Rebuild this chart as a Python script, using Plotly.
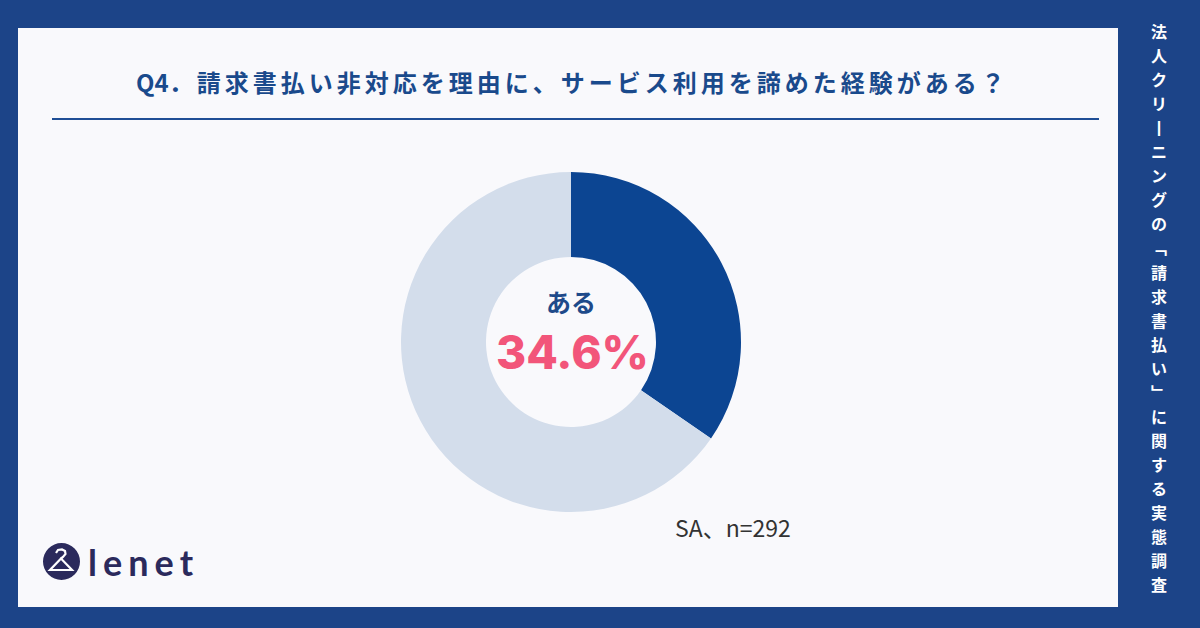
import plotly.graph_objects as go

W, H = 1200, 628

# ---- data ----
labels = ["ある", "ない"]
values = [34.6, 65.4]
slice_colors = ["#0c4592", "#d3ddeb"]
title_prefix = "Q4"
title_body = "．請求書払い非対応を理由に、サービス利用を諦めた経験がある？"
side_title = ["法", "人", "ク", "リ", "丨", "ニ", "ン", "グ", "の", "﹁", "請", "求", "書", "払", "い", "﹂",
              "に", "関", "す", "る", "実", "態", "調", "査"]
center_label = "ある"
center_value = "34.6%"
note_text = "SA、n=292"
brand = "lenet"

BG = "#1c4488"
PANEL = "#f9f9fc"
JP = "Noto Sans CJK JP"


def px(x):
    return x / W


def py(y):
    return 1 - y / H


fig = go.Figure()

fig.add_trace(go.Pie(
    labels=labels, values=values, sort=False, direction="clockwise", rotation=0,
    hole=0.5, marker=dict(colors=slice_colors, line=dict(width=0)),
    textinfo="none", hoverinfo="label+percent", showlegend=False,
    domain=dict(x=[px(401), px(741)], y=[py(512), py(172)]),
))

shapes = [
    dict(type="rect", xref="paper", yref="paper", x0=px(18), x1=px(1118), y0=py(607), y1=py(28),
         fillcolor=PANEL, line=dict(width=0), layer="below"),
    dict(type="line", xref="paper", yref="paper", x0=px(52), x1=px(1099), y0=py(119), y1=py(119),
         line=dict(color="#1f4e96", width=2)),
    # logo circle
    dict(type="circle", xref="paper", yref="paper", x0=px(43), x1=px(80), y0=py(580), y1=py(543),
         fillcolor="#2b2a5c", line=dict(width=0)),
]


def pth(points):
    s = ""
    for i, (x, y) in enumerate(points):
        s += ("M" if i == 0 else "L") + f"{px(x):.5f},{py(y):.5f} "
    return s


# hanger icon (white) inside logo circle
shapes.append(dict(type="path", xref="paper", yref="paper",
                   path=pth([(56, 553), (58, 550), (62, 549.5), (65, 551), (65.5, 554), (63, 557), (61, 558.5)]),
                   line=dict(color="white", width=2.2)))
shapes.append(dict(type="path", xref="paper", yref="paper",
                   path=pth([(61, 558.5), (50, 570), (72, 570), (61, 558.5)]) + "Z",
                   line=dict(color="white", width=2.2)))

annotations = [
    dict(text="<b>" + title_prefix + "\u2006".join(title_body) + "</b>", x=px(570), y=py(82),
         xref="paper", yref="paper", showarrow=False,
         font=dict(family=JP, size=24, color="#1a4a8c"), xanchor="center", yanchor="middle"),
    dict(text="<b>" + center_label + "</b>", x=px(571), y=py(301), xref="paper", yref="paper",
         showarrow=False, font=dict(family=JP, size=25, color="#1e4a8a"), xanchor="center", yanchor="middle"),
    dict(text=center_value, x=px(572), y=py(352), xref="paper", yref="paper",
         showarrow=False, font=dict(family="Inter", size=46, color="#f2557a", weight=800),
         xanchor="center", yanchor="middle"),
    dict(text=note_text, x=px(733), y=py(527), xref="paper", yref="paper",
         showarrow=False, font=dict(family=JP, size=23, color="#333333"), xanchor="center", yanchor="middle"),
    dict(text="\u2006".join(brand), x=px(86), y=py(562), xref="paper", yref="paper",
         showarrow=False, font=dict(family="Lato", size=36, color="#2b2a5c", weight=700),
         xanchor="left", yanchor="middle"),
]

y0, step = 31, 24.05
for i, ch in enumerate(side_title):
    annotations.append(dict(text="<b>" + ch + "</b>", x=px(1159), y=py(y0 + i * step), xref="paper", yref="paper",
                            showarrow=False, font=dict(family=JP, size=16, color="white"),
                            xanchor="center", yanchor="middle"))

fig.update_layout(
    width=W, height=H, margin=dict(l=0, r=0, t=0, b=0),
    paper_bgcolor=BG, plot_bgcolor=BG,
    shapes=shapes, annotations=annotations,
)

fig.write_html("out.html")
